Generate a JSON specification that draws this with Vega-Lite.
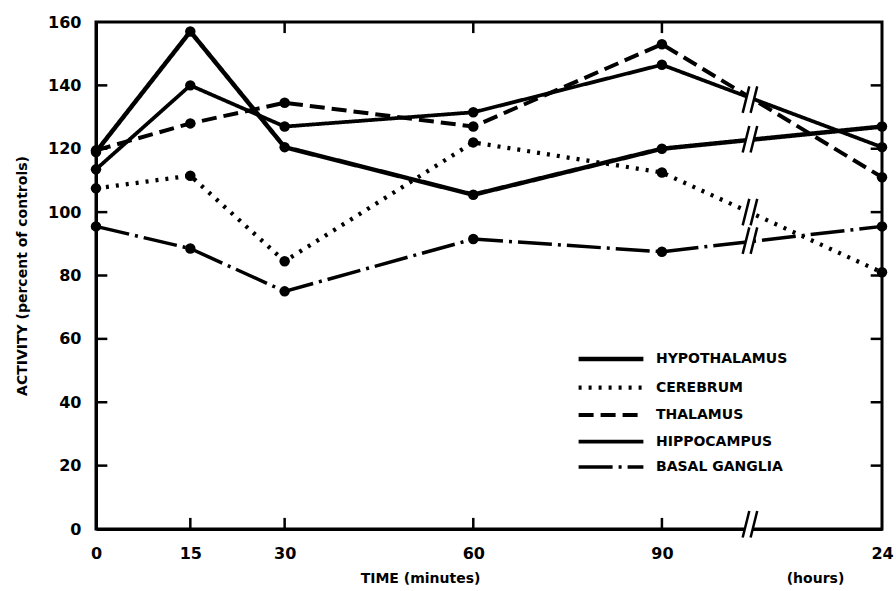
{
  "$schema": "https://vega.github.io/schema/vega-lite/v6.json",
  "width": 786,
  "height": 507,
  "autosize": "none",
  "padding": {"left": 96, "top": 22, "right": 14, "bottom": 62},
  "background": "white",
  "config": {
    "view": {"stroke": "black", "strokeWidth": 3},
    "font": "DejaVu Sans",
    "axis": {"labelFont": "DejaVu Sans", "labelFontWeight": "bold", "labelFontSize": 16, "labelColor": "black", "titleFont": "DejaVu Sans", "titleFontWeight": "bold", "titleColor": "black", "domainColor": "black", "domainWidth": 3, "grid": false},
    "legend": {"labelFont": "DejaVu Sans", "labelFontWeight": "bold", "labelFontSize": 14, "labelColor": "black"}
  },
  "datasets": {
    "series": [
      {"region": "HYPOTHALAMUS", "t": 0, "activity": 119},
      {"region": "HYPOTHALAMUS", "t": 15, "activity": 157},
      {"region": "HYPOTHALAMUS", "t": 30, "activity": 120.5},
      {"region": "HYPOTHALAMUS", "t": 60, "activity": 105.5},
      {"region": "HYPOTHALAMUS", "t": 90, "activity": 120},
      {"region": "HYPOTHALAMUS", "t": 125, "activity": 127},
      {"region": "CEREBRUM", "t": 0, "activity": 107.5},
      {"region": "CEREBRUM", "t": 15, "activity": 111.5},
      {"region": "CEREBRUM", "t": 30, "activity": 84.5},
      {"region": "CEREBRUM", "t": 60, "activity": 122},
      {"region": "CEREBRUM", "t": 90, "activity": 112.5},
      {"region": "CEREBRUM", "t": 125, "activity": 81},
      {"region": "THALAMUS", "t": 0, "activity": 119.5},
      {"region": "THALAMUS", "t": 15, "activity": 128},
      {"region": "THALAMUS", "t": 30, "activity": 134.5},
      {"region": "THALAMUS", "t": 60, "activity": 127},
      {"region": "THALAMUS", "t": 90, "activity": 153},
      {"region": "THALAMUS", "t": 125, "activity": 111},
      {"region": "HIPPOCAMPUS", "t": 0, "activity": 113.5},
      {"region": "HIPPOCAMPUS", "t": 15, "activity": 140},
      {"region": "HIPPOCAMPUS", "t": 30, "activity": 127},
      {"region": "HIPPOCAMPUS", "t": 60, "activity": 131.5},
      {"region": "HIPPOCAMPUS", "t": 90, "activity": 146.5},
      {"region": "HIPPOCAMPUS", "t": 125, "activity": 120.5},
      {"region": "BASAL GANGLIA", "t": 0, "activity": 95.5},
      {"region": "BASAL GANGLIA", "t": 15, "activity": 88.5},
      {"region": "BASAL GANGLIA", "t": 30, "activity": 75},
      {"region": "BASAL GANGLIA", "t": 60, "activity": 91.5},
      {"region": "BASAL GANGLIA", "t": 90, "activity": 87.5},
      {"region": "BASAL GANGLIA", "t": 125, "activity": 95.5}
    ],
    "breaks": [
      {"line": "HYPOTHALAMUS", "t": 104, "activity": 123},
      {"line": "THALAMUS/HIPPOCAMPUS", "t": 104, "activity": 135.5},
      {"line": "CONTROL", "t": 104, "activity": 100},
      {"line": "BASAL GANGLIA", "t": 104, "activity": 91},
      {"line": "AXIS", "t": 104, "activity": 1.5}
    ],
    "xticks": [{"t": 15}, {"t": 30}, {"t": 60}, {"t": 90}],
    "xticksTop": [{"t": 30}, {"t": 60}, {"t": 90}],
    "yticks": [{"activity": 20}, {"activity": 40}, {"activity": 60}, {"activity": 80}, {"activity": 100}, {"activity": 120}, {"activity": 140}]
  },
  "layer": [
    {
      "mark": {"type": "rule", "color": "black", "strokeWidth": 1.5, "strokeDash": [10, 6]},
      "encoding": {"y": {"datum": 100, "type": "quantitative", "axis": null}}
    },
    {
      "data": {"name": "xticks"},
      "mark": {"type": "rule", "color": "black", "strokeWidth": 2.5, "opacity": 1},
      "encoding": {
        "x": {"field": "t", "type": "quantitative", "axis": null},
        "y": {"datum": 0, "type": "quantitative", "axis": null},
        "y2": {"datum": 3.5}
      }
    },
    {
      "data": {"name": "xticksTop"},
      "mark": {"type": "rule", "color": "black", "strokeWidth": 2.5, "opacity": 1},
      "encoding": {
        "x": {"field": "t", "type": "quantitative", "axis": null},
        "y": {"datum": 160, "type": "quantitative", "axis": null},
        "y2": {"datum": 156.5}
      }
    },
    {
      "data": {"name": "yticks"},
      "mark": {"type": "rule", "color": "black", "strokeWidth": 2.5, "opacity": 1},
      "encoding": {
        "y": {"field": "activity", "type": "quantitative", "axis": null},
        "x": {"datum": 0, "type": "quantitative", "axis": null},
        "x2": {"datum": 1.8}
      }
    },
    {
      "data": {"name": "yticks"},
      "mark": {"type": "rule", "color": "black", "strokeWidth": 2.5, "opacity": 1},
      "encoding": {
        "y": {"field": "activity", "type": "quantitative", "axis": null},
        "x": {"datum": 125, "type": "quantitative", "axis": null},
        "x2": {"datum": 123.2}
      }
    },
    {
      "data": {"name": "series"},
      "mark": {"type": "line", "color": "black", "strokeCap": "butt"},
      "encoding": {
        "x": {"field": "t", "type": "quantitative", "scale": {"domain": [0, 125], "nice": false, "zero": false},
          "axis": {"orient": "bottom", "values": [0, 15, 30, 60, 90, 125], "labelExpr": "datum.value == 125 ? '24' : datum.label", "ticks": false, "labelPadding": 16, "title": "TIME (minutes)", "titleFontSize": 14, "titleX": 324, "titleY": 49, "titleBaseline": "middle", "labelFlush": false}},
        "y": {"field": "activity", "type": "quantitative", "scale": {"domain": [0, 160], "nice": false},
          "axis": {"orient": "left", "values": [0, 20, 40, 60, 80, 100, 120, 140, 160], "ticks": false, "labelPadding": 15, "title": "ACTIVITY (percent of controls)", "titleFontSize": 14, "titlePadding": 18, "labelFlush": false}},
        "detail": {"field": "region"},
        "strokeDash": {"field": "region", "type": "nominal",
          "scale": {"domain": ["HYPOTHALAMUS", "CEREBRUM", "THALAMUS", "HIPPOCAMPUS", "BASAL GANGLIA"], "range": [[1, 0], [3, 7], [15, 7], [1, 0], [34, 6, 3, 6]]},
          "legend": {"title": null, "orient": "none", "legendX": 508, "legendY": 330, "padding": 0, "symbolType": "M-10.8,0L10.8,0", "symbolSize": 36, "symbolStrokeColor": "black", "labelOffset": 38, "rowPadding": 10.5}},
        "strokeWidth": {"field": "region", "type": "nominal",
          "scale": {"domain": ["HYPOTHALAMUS", "CEREBRUM", "THALAMUS", "HIPPOCAMPUS", "BASAL GANGLIA"], "range": [4.5, 3.5, 2.5, 1.4, 2.5]},
          "legend": {"title": null, "orient": "none", "legendX": 508, "legendY": 330, "padding": 0, "symbolType": "M-10.8,0L10.8,0", "symbolSize": 36, "symbolStrokeColor": "black", "labelOffset": 38, "rowPadding": 10.5}}
      }
    },
    {
      "data": {"name": "series"},
      "mark": {"type": "point", "shape": "circle", "filled": true, "color": "black", "size": 110, "opacity": 1},
      "encoding": {
        "x": {"field": "t", "type": "quantitative", "axis": null},
        "y": {"field": "activity", "type": "quantitative", "axis": null}
      }
    },
    {
      "data": {"name": "breaks"},
      "mark": {"type": "point", "shape": "M-0.55,1L-0.05,-1L0.55,-1L0.05,1Z", "filled": true, "color": "white", "size": 700, "opacity": 1},
      "encoding": {
        "x": {"field": "t", "type": "quantitative", "axis": null},
        "y": {"field": "activity", "type": "quantitative", "axis": null}
      }
    },
    {
      "data": {"name": "breaks"},
      "mark": {"type": "point", "shape": "M-0.55,1L-0.05,-1M0.05,1L0.55,-1", "filled": false, "stroke": "black", "strokeWidth": 2.5, "size": 700, "opacity": 1},
      "encoding": {
        "x": {"field": "t", "type": "quantitative",
          "axis": {"orient": "bottom", "labels": false, "ticks": false, "domain": false, "title": "(hours)", "titleFontSize": 14, "titleX": 719, "titleY": 49, "titleBaseline": "middle"}},
        "y": {"field": "activity", "type": "quantitative", "axis": null}
      }
    }
  ],
  "resolve": {"axis": {"x": "independent", "y": "independent"}}
}
